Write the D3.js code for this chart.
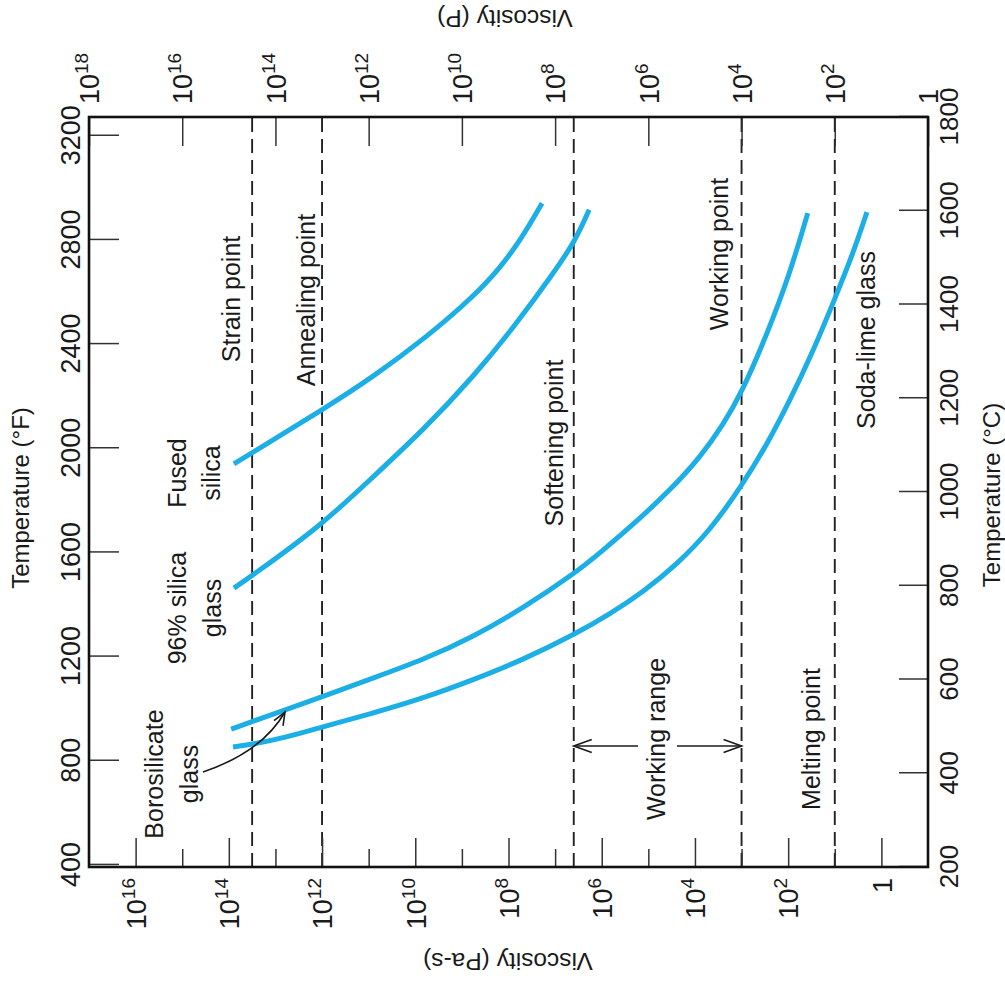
<!DOCTYPE html>
<html>
<head>
<meta charset="utf-8">
<script src="https://cdn.jsdelivr.net/npm/d3@7"></script>
<style>
  body { margin: 0; background: #fff; }
  svg { display: block; font-family: "Liberation Sans", Arial, sans-serif; }
</style>
</head>
<body>
<svg id="chart" width="1005" height="985"></svg>
<script>
// curve readings: temperature (°C) and log10 viscosity (Pa-s)
const fusedTemp = [1060, 1085, 1175, 1245, 1331, 1416, 1478, 1542, 1616];
const fusedLogVisc = [13.89, 13.48, 12.0, 10.91, 9.75, 8.76, 8.18, 7.71, 7.28];

const silica96Temp = [795, 823, 930, 1032, 1132, 1245, 1360, 1465, 1535, 1602];
const silica96LogVisc = [13.89, 13.48, 12.0, 10.91, 9.83, 8.76, 7.82, 7.05, 6.57, 6.27];

const boroTemp = [494, 511, 535, 563, 603, 642, 691, 752, 827, 870, 930, 1004, 1075, 1143, 1209, 1337, 1467, 1595];
const boroLogVisc = [13.95, 13.48, 12.79, 12.0, 10.91, 9.83, 8.76, 7.69, 6.57, 6.04, 5.33, 4.53, 3.88, 3.40, 3.01, 2.45, 1.96, 1.58];

const sodaTemp = [456, 462, 477, 499, 528, 560, 599, 642, 697, 740, 787, 846, 919, 1011, 1102, 1196, 1299, 1412, 1503, 1597];
const sodaLogVisc = [13.91, 13.48, 12.75, 12.0, 10.91, 9.83, 8.76, 7.69, 6.57, 5.82, 5.11, 4.38, 3.67, 3.01, 2.45, 1.96, 1.47, 1.0, 0.63, 0.31];

// reference viscosities (log10 Pa-s)
const refNames = ["Strain point", "Annealing point", "Softening point", "Working point", "Melting point"];
const refLogVisc = [13.5, 12, 6.6, 3, 1];

const celsiusTicks = [200, 400, 600, 800, 1000, 1200, 1400, 1600, 1800];
const fahrenheitTicks = [400, 800, 1200, 1600, 2000, 2400, 2800, 3200];
const pasMajorExp = [16, 14, 12, 10, 8, 6, 4, 2, 0];
const pasMinorExp = [15, 13, 11, 9, 7, 5, 3, 1];
const poiseExp = [18, 16, 14, 12, 10, 8, 6, 4, 2, 0];

const W = 985;   // chart is drawn upright then turned a quarter left
const fLeft = 118, fRight = 868, fTop = 89, fBottom = 928;
const blue = "#1cafe6";
const ink = "#1a1a1a";

const svg = d3.select("#chart");
const g = svg.append("g").attr("transform", `translate(0,${W}) rotate(-90)`);

const x = d3.scaleLinear().domain([200, 1800]).range([fLeft, fRight]);
const xF = d3.scaleLinear().domain([200 * 1.8 + 32, 1800 * 1.8 + 32]).range([fLeft, fRight]);
const y = d3.scaleLog().domain([1e17, 1e-1]).range([fTop, fBottom]);
const yP = d3.scaleLog().domain([1e18, 1]).range([fTop, fBottom]);

function styleAxis(sel, size) {
  sel.select(".domain").remove();
  sel.selectAll(".tick line").attr("stroke", "#333").attr("stroke-width", 1.5);
  sel.selectAll(".tick text").attr("fill", ink).attr("font-size", size);
  sel.attr("font-family", null).attr("font-size", null);
}

function powerText(sel) {
  sel.selectAll(".tick text").each(function(d) {
    const e = Math.round(Math.log10(d));
    const t = d3.select(this).text(null);
    if (e === 0) {
      t.append("tspan").text("1");
    } else {
      t.append("tspan").text("10");
      t.append("tspan").attr("font-size", 19).attr("dy", -11).text(e);
    }
  });
}

// dashed reference lines
g.selectAll(".ref").data(refLogVisc).join("line")
  .attr("x1", fLeft).attr("x2", fRight)
  .attr("y1", d => y(10 ** d)).attr("y2", d => y(10 ** d))
  .attr("stroke", "#222").attr("stroke-width", 1.9)
  .attr("stroke-dasharray", "14,7");

// axes
const gC = g.append("g").attr("transform", `translate(0,${fBottom})`)
  .call(d3.axisBottom(x).tickValues(celsiusTicks).tickSizeInner(-29).tickSizeOuter(0).tickPadding(12).tickFormat(d3.format("d")));
styleAxis(gC, 26);

const gF = g.append("g").attr("transform", `translate(0,${fTop})`)
  .call(d3.axisTop(xF).tickValues(fahrenheitTicks).tickSizeInner(-30).tickSizeOuter(0).tickPadding(9).tickFormat(d3.format("d")));
styleAxis(gF, 27);

const gPa = g.append("g").attr("transform", `translate(${fLeft},0)`)
  .call(d3.axisLeft(y).tickValues(pasMajorExp.map(e => 10 ** e)).tickSizeInner(-29).tickSizeOuter(0).tickPadding(11));
styleAxis(gPa, 27);
gPa.selectAll(".tick text").attr("dy", "0.36em");
powerText(gPa);

const gPaMinor = g.append("g").attr("transform", `translate(${fLeft},0)`)
  .call(d3.axisLeft(y).tickValues(pasMinorExp.map(e => 10 ** e)).tickSizeInner(-18).tickSizeOuter(0).tickFormat(""));
styleAxis(gPaMinor, 27);

const gP = g.append("g").attr("transform", `translate(${fRight},0)`)
  .call(d3.axisRight(yP).tickValues(poiseExp.map(e => 10 ** e)).tickSizeInner(-29).tickSizeOuter(0).tickPadding(13));
styleAxis(gP, 27);
gP.selectAll(".tick text").attr("dy", "0.36em");
powerText(gP);

// frame
g.append("rect").attr("x", fLeft).attr("y", fTop)
  .attr("width", fRight - fLeft).attr("height", fBottom - fTop)
  .attr("fill", "none").attr("stroke", "#111").attr("stroke-width", 2.6);

// curves
const line = d3.line().x(d => x(d[0])).y(d => y(10 ** d[1])).curve(d3.curveBasis);
const glasses = [
  [fusedTemp, fusedLogVisc],
  [silica96Temp, silica96LogVisc],
  [boroTemp, boroLogVisc],
  [sodaTemp, sodaLogVisc]
];
glasses.forEach(([t, v]) => {
  g.append("path").datum(d3.zip(t, v)).attr("d", line)
    .attr("fill", "none").attr("stroke", blue).attr("stroke-width", 5);
});

// axis titles
g.append("text").attr("x", 490).attr("y", 1000).attr("text-anchor", "middle")
  .attr("font-size", 24).attr("fill", ink).text("Temperature (°C)");
g.append("text").attr("x", 487).attr("y", 29).attr("text-anchor", "middle")
  .attr("font-size", 24).attr("fill", ink).text("Temperature (°F)");
g.append("text").attr("transform", "translate(32,508) rotate(-90)").attr("text-anchor", "middle")
  .attr("font-size", 24.5).attr("fill", ink).text("Viscosity (Pa-s)");
g.append("text").attr("transform", "translate(975,505) rotate(-90)").attr("text-anchor", "middle")
  .attr("font-size", 24.5).attr("fill", ink).text("Viscosity (P)");

// in-plot labels
const labels = [
  ["Strain point", 686, 240],
  ["Annealing point", 685, 315],
  ["Fused", 512, 186],
  ["silica", 512, 220],
  ["96% silica", 377, 186],
  ["glass", 377, 221],
  ["Borosilicate", 211, 163],
  ["glass", 211, 198],
  ["Softening point", 542, 563],
  ["Working point", 731, 728],
  ["Soda-lime glass", 645, 875],
  ["Working range", 246, 665],
  ["Melting point", 246, 820]
];
g.selectAll(".lbl").data(labels).join("text")
  .attr("x", d => d[1]).attr("y", d => d[2])
  .attr("text-anchor", "middle").attr("font-size", 25).attr("fill", ink)
  .text(d => d[0]);

// working range arrow (between softening and working points)
const arrowX = 239;
const ySoft = y(10 ** refLogVisc[2]), yWork = y(10 ** refLogVisc[3]);
const arr = g.append("g").attr("stroke", ink).attr("stroke-width", 1.6).attr("fill", "none");
arr.append("line").attr("x1", arrowX).attr("x2", arrowX).attr("y1", ySoft).attr("y2", 638);
arr.append("line").attr("x1", arrowX).attr("x2", arrowX).attr("y1", 677).attr("y2", yWork);
arr.append("path").attr("d", `M${arrowX - 6.5},${ySoft + 18}L${arrowX},${ySoft}L${arrowX + 6.5},${ySoft + 18}`);
arr.append("path").attr("d", `M${arrowX - 6.5},${yWork - 18}L${arrowX},${yWork}L${arrowX + 6.5},${yWork - 18}`);

// borosilicate pointer
const p0 = [213, 203], c = [233, 262], p2 = [273, 285];
arr.append("path").attr("d", `M${p0}Q${c} ${p2}`);
const ang = Math.atan2(p2[1] - c[1], p2[0] - c[0]);
const hl = 14, hw = 0.38;
arr.append("path").attr("d",
  `M${p2[0] - hl * Math.cos(ang - hw)},${p2[1] - hl * Math.sin(ang - hw)}L${p2}L${p2[0] - hl * Math.cos(ang + hw)},${p2[1] - hl * Math.sin(ang + hw)}`);
</script>
</body>
</html>
